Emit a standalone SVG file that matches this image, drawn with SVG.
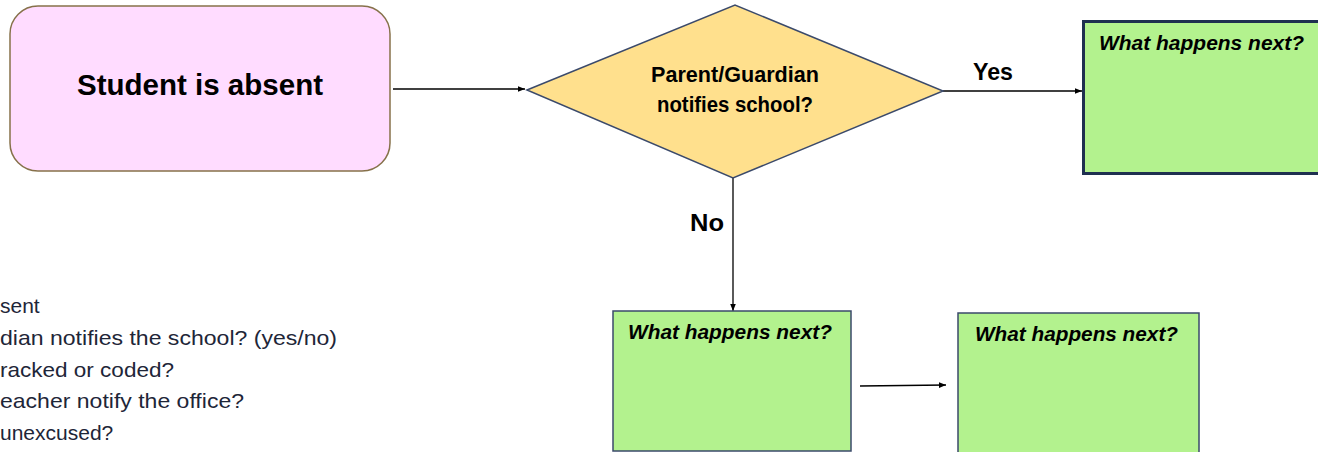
<svg xmlns="http://www.w3.org/2000/svg" width="1318" height="452" viewBox="0 0 1318 452">
<defs>
<marker id="ah" viewBox="0 0 10 10" refX="10" refY="5" markerWidth="7" markerHeight="7" markerUnits="userSpaceOnUse" orient="auto"><path d="M0,1 L10,5 L0,9 z" fill="#000"/></marker>
<style>
.lbl{font-family:"Liberation Sans",Arial,sans-serif;font-weight:bold;fill:#000}
.next{font-family:"Liberation Sans",Arial,sans-serif;font-weight:bold;font-style:italic;font-size:20px;fill:#000}
.green{fill:#b3f28e}
.conn{stroke:#000;stroke-width:1.3;fill:none;marker-end:url(#ah)}
.side{font-family:"Liberation Sans",Arial,sans-serif;font-size:21px;fill:#1e2638}
</style>
</defs>
<rect width="1318" height="452" fill="#fff"/>
<g id="connectors">
<line class="conn" x1="393" y1="89" x2="525" y2="89"/>
<line class="conn" x1="943" y1="91" x2="1082" y2="91"/>
<line class="conn" x1="733" y1="178" x2="733" y2="311"/>
<line class="conn" x1="860" y1="386" x2="946" y2="385"/>
<text class="lbl" x="993" y="80" font-size="24" text-anchor="middle" textLength="40" lengthAdjust="spacingAndGlyphs">Yes</text>
<text class="lbl" x="707" y="231" font-size="24" text-anchor="middle" textLength="34" lengthAdjust="spacingAndGlyphs">No</text>
</g>
<g id="start">
<rect x="10" y="6" width="380" height="165" rx="28" ry="28" fill="#ffdcff" stroke="#86714a" stroke-width="1.5"/>
<text class="lbl" x="200" y="95" font-size="29" text-anchor="middle" textLength="246" lengthAdjust="spacingAndGlyphs">Student is absent</text>
</g>
<g id="decision">
<polygon points="527,90 735,5 943,91 733,178" fill="#ffe08d" stroke="#3b4a6b" stroke-width="1.5"/>
<text class="lbl" x="735" y="82" font-size="22" text-anchor="middle" textLength="168" lengthAdjust="spacingAndGlyphs">Parent/Guardian</text>
<text class="lbl" x="735" y="112" font-size="22" text-anchor="middle" textLength="156" lengthAdjust="spacingAndGlyphs">notifies school?</text>
</g>
<g id="yes-next">
<rect class="green" x="1083.5" y="21.5" width="240" height="152" stroke="#1f3050" stroke-width="3"/>
<text class="next" x="1099" y="50" textLength="205" lengthAdjust="spacingAndGlyphs">What happens next?</text>
</g>
<g id="no-next">
<rect class="green" x="613" y="311" width="238" height="140" stroke="#3b4a6b" stroke-width="1.5"/>
<text class="next" x="628" y="339" textLength="204" lengthAdjust="spacingAndGlyphs">What happens next?</text>
</g>
<g id="then-next">
<rect class="green" x="958" y="313" width="241" height="142" stroke="#3b4a6b" stroke-width="1.5"/>
<text class="next" x="975" y="341" textLength="203" lengthAdjust="spacingAndGlyphs">What happens next?</text>
</g>
<g id="notes">
<text class="side" x="0" y="313">sent</text>
<text class="side" x="0" y="345" textLength="337" lengthAdjust="spacingAndGlyphs">dian notifies the school? (yes/no)</text>
<text class="side" x="0" y="377" textLength="174" lengthAdjust="spacingAndGlyphs">racked or coded?</text>
<text class="side" x="0" y="408" textLength="244" lengthAdjust="spacingAndGlyphs">eacher notify the office?</text>
<text class="side" x="0" y="440">unexcused?</text>
</g>
</svg>
